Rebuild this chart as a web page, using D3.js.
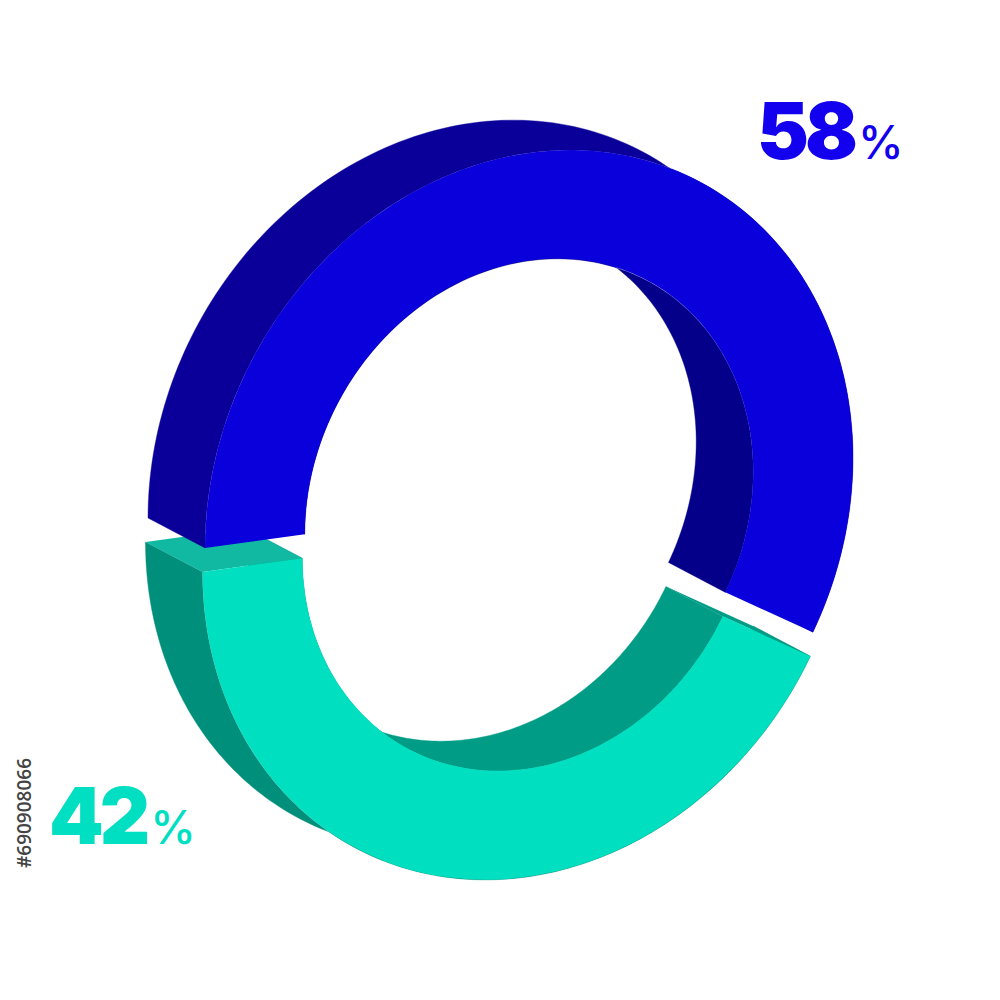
<!DOCTYPE html>
<html>
<head>
<meta charset="utf-8">
<script src="https://cdn.jsdelivr.net/npm/d3@7"></script>
<style>html,body{margin:0;padding:0;background:#fff}svg{display:block}</style>
</head>
<body>
<svg id="c" width="1000" height="1000" viewBox="0 0 1000 1000"></svg>
<script>
const categories = ["blue", "teal"];
const shares = [58, 42];
const faceColors = ["#0a00dc", "#00dfc0"];
const outerWallColors = ["#0a0099", "#008f7b"];
const innerWallColors = ["#05008a", "#009c86"];
const cutColors = ["#0a0099", "#12b9a2"];
const labelColors = ["#1200ee", "#00dfc2"];
const labelText = ["58", "42"];
const imageId = "#690908066";

const svg = d3.select("#c");

// Oblique projection of the ring plane
const M = {xx: 324, yx: -45, yy: 350};
const centers = [{x: 529, y: 503}, {x: 526.5, y: 527}];
const depth = {x: -57, y: -30};
const innerRatio = 0.692;

const pie = d3.pie().sort(null).startAngle(1.5 * Math.PI).endAngle(3.5 * Math.PI);
const slices = pie(shares);
const arcGen = d3.arc();
const lineGen = d3.line();

// d3 angle: 0 at 12 o'clock, clockwise
function project(phi, r, c, useDepth) {
  const u = Math.sin(phi) * r, v = -Math.cos(phi) * r;
  return [
    c.x + M.xx * u + (useDepth ? depth.x : 0),
    c.y + M.yx * u + M.yy * v + (useDepth ? depth.y : 0)
  ];
}
function arcPoints(s, r, c, useDepth) {
  const n = 160;
  return d3.range(n + 1).map(i =>
    project(s.startAngle + (s.endAngle - s.startAngle) * i / n, r, c, useDepth));
}
function wall(s, r, c, fill) {
  const pts = arcPoints(s, r, c, false).concat(arcPoints(s, r, c, true).reverse());
  svg.append("path").attr("d", lineGen(pts) + "Z").attr("fill", fill)
    .attr("stroke", fill).attr("stroke-width", 0.4);
}
function cut(phi, c, fill) {
  const pts = [project(phi, 1, c, false), project(phi, innerRatio, c, false),
               project(phi, innerRatio, c, true), project(phi, 1, c, true)];
  svg.append("path").attr("d", lineGen(pts) + "Z").attr("fill", fill);
}
function face(s, c, fill) {
  svg.append("path")
    .attr("d", arcGen({innerRadius: innerRatio, outerRadius: 1, startAngle: s.startAngle, endAngle: s.endAngle}))
    .attr("transform", `matrix(${M.xx} ${M.yx} 0 ${M.yy} ${c.x} ${c.y})`)
    .attr("fill", fill);
}

// teal first: the blue piece overlaps it at the left cut
const iB = 0, iT = 1;
wall(slices[iT], 1, centers[iT], outerWallColors[iT]);
wall(slices[iT], innerRatio, centers[iT], innerWallColors[iT]);
cut(slices[iT].startAngle, centers[iT], innerWallColors[iT]);
cut(slices[iT].endAngle, centers[iT], cutColors[iT]);
face(slices[iT], centers[iT], faceColors[iT]);

wall(slices[iB], 1, centers[iB], outerWallColors[iB]);
wall(slices[iB], innerRatio, centers[iB], innerWallColors[iB]);
face(slices[iB], centers[iB], faceColors[iB]);

// labels: one text element each, number plus smaller percent sign
const labelPos = [{x: 757, y: 159}, {x: 49, y: 844}];
labelText.forEach((t, i) => {
  const g = svg.append("text")
    .attr("x", labelPos[i].x).attr("y", labelPos[i].y)
    .attr("fill", labelColors[i])
    .style("font-family", "Inter, 'Noto Sans', sans-serif");
  g.append("tspan").text(t).attr("font-size", 78).attr("font-weight", 900).attr("letter-spacing", -4);
  g.append("tspan").text("%").attr("font-size", 46).attr("font-weight", 500).attr("dx", 4);
});

svg.append("text")
  .attr("transform", "translate(31,868) rotate(-90)")
  .attr("font-size", 19).attr("font-weight", 600)
  .attr("fill", "#444")
  .style("font-family", "'Open Sans', sans-serif")
  .text(imageId);
</script>
</body>
</html>
